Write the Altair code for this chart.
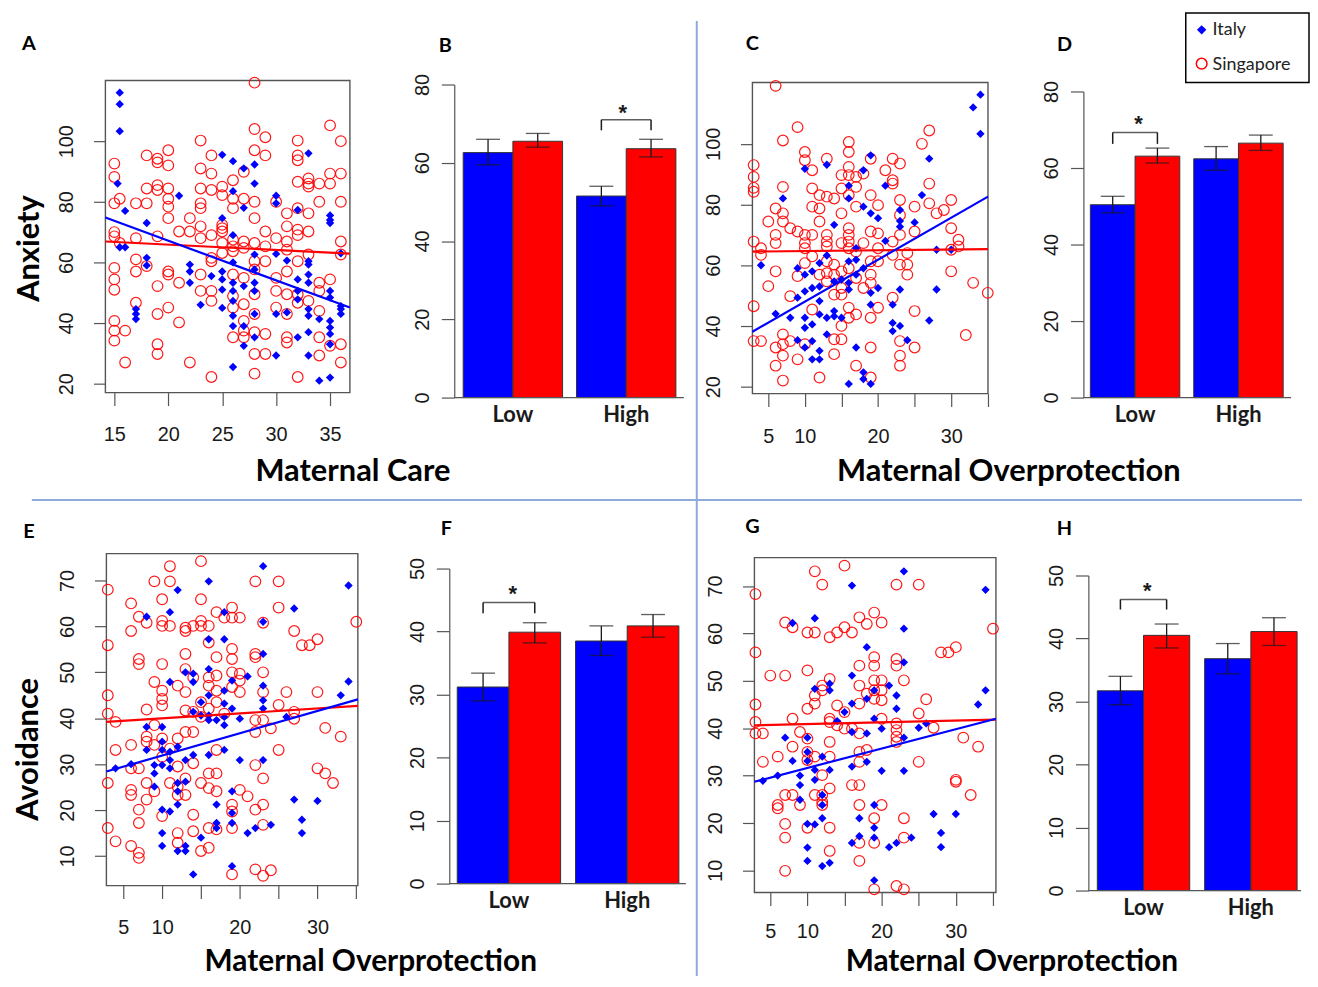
import altair as alt
import pandas as pd

# ------------------------------------------------------------------ data
# Panel A: Anxiety vs Maternal Care  ([x, y] pairs)
A_ITALY = [[15.5,116],[15.5,112.2],[15.5,103.3],[15.3,86],[16,77],[15.5,65],[16,65],[17,44.6],[17,43],[17,41.3],
           [18,73],[18,61.5],[18,59],[21,82],[22,59.3],[22,57],[22,53.3],[23,46],[24,55.5],[25,95.5],[25,74.6],
           [25,57],[25,54.4],[25,51],[25,45],[26,93.4],[26,83.5],[26,69],[26,60],[26,53.3],[26,50.6],[26,47.3],
           [26,42.4],[26,39],[26,25.5],[27,91],[27,78],[27,52.2],[27,39],[27,32.5],[28,92.3],[28,86],[28,62.6],
           [28,57.7],[28,53.3],[28,50.6],[28,43],[28,35.3],[30,82],[30,79.5],[30,62.8],[30,43],[30,29.3],[31,60.6],
           [31,43.5],[32,77.3],[32,54.4],[32,50.6],[32,47.8],[32,35.3],[33,96],[33,60.4],[33,59.3],[33,56],[33,53.3],
           [33,44.6],[33,42.4],[33,37],[33,29.3],[34,41.3],[34,21],[35,75.5],[35,74],[35,73],[35,50.6],[35,48.4],
           [35,40.7],[35,38.5],[35,36.4],[35,33],[35,22],[36,63],[36,45.6],[36,44.6],[36,43]]
A_SINGAPORE = [[15,92.6],[15,88.2],[15.5,81],[15,79.5],[15,70],[15,68.6],[15.5,66.4],[15,58.2],[15,54.4],[15,51],
               [15,40.7],[15,37.5],[15,34.2],[16,37.5],[16,27],[17,79.5],[17,68],[17,61],[17,57],[17,46.7],
               [18,95.3],[18,84.4],[18,79.5],[18,58.8],[19,94.2],[19,93],[19,85.5],[19,83.9],[19,68.6],[19,52.2],
               [19,43],[19,33],[19,29.8],[20,97],[20,92],[20,84.4],[20,81],[20,78.4],[20,74.6],[20,57],[20,56],
               [20,45.1],[21,70.2],[21,53.3],[21,40.2],[22,74.6],[22,70.2],[22,27],[23,100.2],[23,91],[23,84.4],
               [23,79.5],[23,77.9],[23,71.9],[23,68],[23,56],[23,50.6],[24,95.3],[24,89.3],[24,83.9],[24,69],
               [24,61.5],[24,60.4],[24,50.6],[24,47.3],[24,22.2],[25,85],[25,82.2],[25,72.4],[25,71.3],[25,70.2],
               [25,66.4],[25,63.1],[26,87.1],[26,81],[26,77.9],[26,67.5],[26,65.3],[26,63.7],[26,56],[26,48.9],
               [26,45.1],[26,35.3],[27,89.9],[27,81],[27,66.9],[27,64.8],[27,54.9],[27,46.2],[27,40.7],[27,37.5],
               [27,35.3],[28,119.3],[28,104],[28,97],[28,80],[28,74.6],[28,66.4],[28,60.4],[28,57.7],[28,49.5],
               [28,43],[28,37],[28,29.8],[28,23.3],[29,101.3],[29,95.3],[29,70.2],[29,65.3],[29,60.4],[29,36.4],
               [29,29.8],[30,80],[30,68],[30,54.9],[30,50.6],[30,45.1],[31,76.2],[31,71.9],[31,66.9],[31,64.2],
               [31,57],[31,49.5],[31,43],[31,35.3],[31,33.6],[32,100.2],[32,95.3],[32,93.7],[32,86.6],[32,77.9],
               [32,70.8],[32,69],[32,60.4],[32,49.5],[32,46.7],[32,22.2],[33,87.7],[33,86],[33,85],[33,76.2],
               [33,70.2],[33,62.6],[33,47.3],[34,86],[34,80],[34,53.3],[34,50.6],[34,44],[34,35.3],[34,29.3],
               [35,105.2],[35,89.3],[35,86],[35,54.4],[35,32.5],[36,100],[36,89.3],[36,80],[36,66.9],[36,62.6],
               [36,33],[36,27]]
A_FIT_X = [14.17, 36.84]
A_FIT_ITALY = [74.8, 45.1]
A_FIT_SINGAPORE = [66.9, 62.9]

# Panel C: Anxiety vs Maternal Overprotection
C_ITALY = [[4,60],[6,44],[7,82],[8,42.7],[9,59],[9,49.3],[9,35.3],[10,91.8],[10,56.9],[10,51.4],[10,42.7],[10,39.4],
           [10,32.9],[11,58],[11,52.5],[11,40.5],[11,35],[11,29],[12,60.7],[12,53],[12,48.2],[12,43.8],[12,31.8],
           [12,29],[13,93.1],[13,63.2],[13,42.7],[13,37.2],[14,73.3],[14,54.7],[14,44.9],[14,43.2],[15,55.3],
           [15,42.7],[16,86.2],[16,82],[16,61.3],[16,54.2],[16,52],[16,20.9],[17,65.6],[17,61.8],[17,56.9],
           [17,32.9],[18,91.3],[18,79.3],[18,59],[18,22.5],[18,24.7],[19,96.2],[19,77.1],[19,50.9],[19,47],
           [19,20.9],[20,75.5],[20,52.5],[21,86.2],[21,68],[22,47],[22,38.3],[22,41],[23,78.2],[23,74.6],
           [23,72.7],[23,52],[23,40],[24,35.3],[25,74.1],[26,83.1],[27,95.1],[27,41.8],[28,65.1],[28,52],
           [30,65.1],[33,112],[34,116.2],[34,103.3]]
C_SINGAPORE = [[3,93],[3,89.1],[3,85.5],[3,84.2],[3,67.8],[3,46.5],[3,35],[4,65.6],[4,63.4],[4,35],[5,74.4],
               [5,53.1],[6,119.1],[6,78.7],[6,70],[6,67.3],[6,58],[6,32.9],[6,26.9],[7,101.1],[7,85.8],[7,77.1],
               [7,74.4],[7,37.2],[7,34],[7,30.2],[7,22],[8,72.2],[8,49.8],[8,35],[9,105.5],[9,71.1],[9,56.4],
               [9,29],[10,97.3],[10,94.6],[10,70],[10,67.3],[10,65.6],[10,60.7],[10,34],[11,91.3],[11,85.3],
               [11,79.3],[11,70],[11,62.9],[11,45.4],[12,83.1],[12,78.7],[12,74.4],[12,56.9],[12,23],[13,95.1],
               [13,82.6],[13,70],[13,67.8],[13,66.2],[13,61.3],[13,57.4],[13,54.7],[14,82],[14,60.2],[14,56.9],
               [14,50.3],[14,35.6],[14,30.7],[15,89.7],[15,85.3],[15,77.1],[15,67.3],[15,58],[15,52.5],[15,50.3],
               [15,40],[15,35.6],[16,100.6],[16,97.3],[16,92.4],[16,89.7],[16,83.1],[16,72.2],[16,70],[16,67.8],
               [16,65.6],[16,59],[16,46],[16,42.7],[17,89.1],[17,85.8],[17,79.3],[17,64.5],[17,55.8],[17,43.8],
               [17,26.9],[18,90.2],[18,67.3],[18,52.5],[19,95.1],[19,83.1],[19,71.1],[19,61.3],[19,56.9],
               [19,54.2],[19,42.7],[19,32.9],[19,23],[20,79.8],[20,70.5],[20,65.6],[20,61.3],[20,46],[21,91.3],
               [22,95.1],[22,88],[22,86.9],[22,67.8],[22,63.4],[22,49.3],[23,93.5],[23,81.5],[23,76.5],[23,70],
               [23,60.2],[23,35],[23,30.2],[23,26.9],[24,64],[24,60.2],[24,56.9],[25,79.3],[25,71.1],[25,44.9],
               [25,32.9],[26,100],[27,104.4],[27,86.9],[27,80.4],[28,77.1],[29,78.2],[30,81.5],[30,72.2],
               [30,65.1],[30,58],[31,68.4],[31,66.2],[32,37],[33,54.2],[35,50.9]]
C_FIT_X = [2.83, 35.03]
C_FIT_ITALY = [38.1, 82.6]
C_FIT_SINGAPORE = [64.5, 65.3]

# Panel E: Avoidance vs Maternal Overprotection
E_ITALY = [[4,29.1],[6,30],[8,62.1],[8,38.1],[8,33.1],[9,29.8],[9,28],[9,25.1],[10,38.1],[10,34.9],[10,33.1],
           [10,29.8],[10,20.1],[10,15],[10,12.2],[11,63.1],[11,47.9],[11,32.7],[11,30.9],[11,29.1],[11,19.7],
           [12,67.9],[12,33.8],[12,25.9],[12,24.1],[12,21.2],[12,11.1],[13,50],[13,30.9],[13,26.2],[13,12.2],
           [13,11.1],[14,49.7],[14,47.9],[14,41.4],[14,32],[14,6],[15,43.5],[15,40.6],[15,14],[16,69.8],
           [16,57.2],[16,50.7],[16,45],[16,40.6],[16,39.6],[16,32],[17,39.6],[17,21.2],[17,17.2],[17,16.1],
           [18,63.1],[18,57.2],[18,46],[18,43.2],[18,40.3],[18,38.5],[18,33.1],[19,48.2],[19,42.1],[19,24.1],
           [19,19.4],[19,17.2],[19,7.8],[20,39.9],[20,30.9],[21,49.1],[21,15],[22,16.1],[23,73.1],[23,61],
           [23,54],[23,47.1],[23,43.9],[23,42.1],[23,30.9],[24,16.8],[26,40.3],[27,63.9],[27,22.3],[28,17.9],
           [28,15],[30,22],[33,45],[34,68.9],[34,48]]
E_SINGAPORE = [[3,68],[3,55.9],[3,45],[3,41],[3,25.9],[3,16.1],[4,39.2],[4,33.1],[4,13.2],[6,65],[6,59],
               [6,34.2],[6,29.1],[6,24.4],[6,23.3],[6,12.2],[7,62.1],[7,52.9],[7,51.8],[7,29.1],[7,20.1],
               [7,17.2],[7,10.7],[7,9.6],[8,60.8],[8,41.9],[8,36],[8,34.9],[8,25.9],[8,22.3],[9,69.8],[9,47.9],
               [9,38.5],[9,34.2],[9,24.1],[10,65.9],[10,61.2],[10,60.1],[10,51.8],[10,46],[10,44.2],[10,42.8],
               [10,35.6],[10,31.6],[10,18.7],[11,73.1],[11,69.8],[11,60.1],[11,33.4],[11,25.9],[12,47.1],
               [12,35.6],[12,29.5],[12,25.1],[12,23.3],[12,15],[12,12.9],[13,59.7],[13,59],[13,54],[13,50.7],
               [13,45.7],[13,41.7],[13,37],[13,26.9],[13,23.3],[14,60.1],[14,48.9],[14,41.4],[14,37],[14,30.2],
               [14,19],[14,15.4],[15,74.2],[15,65.9],[15,61.2],[15,60.1],[15,43.5],[15,40.3],[15,25.9],[15,11.1],
               [16,60.1],[16,56.5],[16,48.9],[16,47.1],[16,42.1],[16,28],[16,24.8],[16,16.1],[16,11.8],[17,63.1],
               [17,53.3],[17,49.3],[17,46],[17,43.5],[17,33.1],[17,28],[17,24.1],[17,15.8],[18,61.9],[18,41],
               [19,64.1],[19,61.9],[19,55.1],[19,52.9],[19,50],[19,46.8],[19,21.2],[19,19.7],[19,16.1],[19,6],
               [20,61.9],[20,49.7],[20,48.2],[20,45.7],[20,24.4],[21,23],[22,69.8],[22,54],[22,53.3],[22,39.6],
               [22,37],[22,29.8],[22,20.1],[22,7.1],[23,60.8],[23,50],[23,45.7],[23,39.6],[23,26.9],[23,21.2],
               [23,16.8],[23,5.7],[24,6.9],[24,37.8],[25,69.8],[25,64.1],[25,42.9],[25,33.1],[26,45.7],[27,59],
               [27,41.4],[27,39.9],[28,55.9],[29,55.9],[30,57.2],[30,45.7],[30,29.1],[31,37.9],[31,28],[32,25.9],
               [33,36],[35,61]]
E_FIT_X = [2.82, 35.2]
E_FIT_ITALY = [28.4, 44.1]
E_FIT_SINGAPORE = [39.2, 42.7]

# Panel G: Avoidance vs Maternal Overprotection
G_ITALY = [[4,28.9],[6,30],[7,38],[8,62.2],[8,33.1],[9,30],[9,28],[9,24.9],[10,38],[10,35],[10,33.1],[10,19.8],
           [10,14.8],[10,12],[11,63.2],[11,48.3],[11,31.2],[11,29.1],[11,19.7],[12,34],[12,25.9],[12,23.8],
           [12,21],[12,10.9],[13,49.4],[13,48],[13,31.2],[13,11.6],[14,41.5],[15,43.4],[16,70.1],[16,51.1],
           [16,45.2],[16,39.2],[16,31.9],[16,15.8],[17,21],[17,17.2],[18,57.1],[18,46.2],[18,38.9],[18,32.9],
           [19,48],[19,42],[19,23.8],[19,19],[19,16.9],[19,7.9],[20,39.9],[20,31],[21,49],[21,14.9],[22,46.9],
           [22,44.1],[22,15.8],[23,73.1],[23,61],[23,53.9],[23,38],[23,31],[24,16.9],[25,40.1],[26,41],
           [27,21.9],[28,17.9],[28,14.9],[30,21.9],[33,45],[34,69.2],[34,48]]
G_SINGAPORE = [[3,68.3],[3,56],[3,45],[3,41.3],[3,38.9],[4,38.9],[4,32.9],[5,51.1],[6,34],[6,23.8],[6,23.1],
               [7,62.3],[7,51.1],[7,25.9],[7,19.8],[7,16.9],[7,9.9],[8,61.3],[8,42],[8,36.1],[8,25.9],[9,39.2],
               [9,23.8],[10,60.2],[10,52.2],[10,44.1],[10,37.8],[10,35],[10,33.3],[10,19],[11,73.1],[11,60.2],
               [11,46.9],[11,45.2],[11,34],[11,25.9],[12,70.3],[12,49],[12,48],[12,30.1],[12,25.9],[12,24.5],
               [12,23.8],[13,59.2],[13,50.4],[13,42],[13,41.3],[13,37.1],[13,34],[13,27.3],[13,19],[13,14.1],
               [14,60.2],[14,44.8],[14,40.6],[15,74.3],[15,61.3],[15,43.4],[15,39.9],[16,60.2],[16,39.9],[16,28],
               [17,63.4],[17,53.2],[17,49],[17,45.2],[17,38.9],[17,35],[17,32.9],[17,28],[17,23.8],[17,15.8],
               [17,12],[18,62],[18,47.3],[18,35.4],[19,64.4],[19,55],[19,53.2],[19,50.1],[19,48],[19,46.2],[19,21],
               [19,15.8],[19,6],[20,62.3],[20,50.1],[20,48],[20,45.9],[20,42],[20,23.8],[22,70.3],[22,54.6],
               [22,53.2],[22,41],[22,39.6],[22,38.2],[22,37.1],[22,6.7],[23,50.1],[23,21],[23,16.9],[23,6],
               [25,70.3],[25,43.1],[25,32.9],[26,46.1],[27,40.1],[28,56],[29,56],[30,57.1],[30,29.1],[30,28.7],
               [31,38],[32,25.9],[33,36.1],[35,61]]
G_FIT_X = [2.86, 35.4]
G_FIT_ITALY = [28.7, 42.0]
G_FIT_SINGAPORE = [40.6, 41.8]

# Bar panels (Low, High)
GROUPS = ["Low", "High"]
COUNTRIES = ["Italy", "Singapore"]

B_ITALY_MEAN, B_ITALY_LO, B_ITALY_HI = [62.6, 51.5], [59.5, 49.0], [66.0, 54.0]
B_SING_MEAN, B_SING_LO, B_SING_HI = [65.5, 63.6], [64.0, 61.5], [67.5, 66.0]
B_SIG_GROUP, B_BRACKET, B_STAR = "High", [68.3, 71.0], 74.0

D_ITALY_MEAN, D_ITALY_LO, D_ITALY_HI = [50.4, 62.4], [48.3, 59.4], [52.6, 65.6]
D_SING_MEAN, D_SING_LO, D_SING_HI = [63.1, 66.5], [61.3, 64.6], [65.2, 68.6]
D_SIG_GROUP, D_BRACKET, D_STAR = "Low", [66.3, 69.3], 72.8

F_ITALY_MEAN, F_ITALY_LO, F_ITALY_HI = [31.2, 38.5], [29.0, 36.2], [33.4, 40.9]
F_SING_MEAN, F_SING_LO, F_SING_HI = [39.9, 40.9], [38.2, 39.1], [41.4, 42.7]
F_SIG_GROUP, F_BRACKET, F_STAR = "Low", [42.9, 44.6], 46.7

H_ITALY_MEAN, H_ITALY_LO, H_ITALY_HI = [31.7, 36.8], [29.5, 34.4], [34.0, 39.2]
H_SING_MEAN, H_SING_LO, H_SING_HI = [40.5, 41.1], [38.5, 38.9], [42.3, 43.3]
H_SIG_GROUP, H_BRACKET, H_STAR = "Low", [44.6, 46.2], 48.4

TICKS_ANX = [20, 40, 60, 80, 100]
TICKS_AVO = [10, 20, 30, 40, 50, 60, 70]
TICKS_CARE = [15, 20, 25, 30, 35]
TICKS_OVER = [5, 10, 15, 20, 25, 30, 35]
TICKS_BAR80 = [0, 20, 40, 60, 80]
TICKS_BAR50 = [0, 10, 20, 30, 40, 50]

# ------------------------------------------------------------------ layout / style
W, H = 1310, 971
M = 8
BLUE = "#0000ff"
RED = "#ff0000"
GRAY = "#555555"
INK = "#1a1a1a"
SEP = "#8eaadb"
TICK_FONT = "Liberation Sans"
TITLE_FONT = "Lato"


def px(x):
    return x - M


def py(y):
    return y - M


ONE = pd.DataFrame({"k": [0]})
layers = []


def pts(pairs):
    return pd.DataFrame({"x": [p[0] for p in pairs], "y": [p[1] for p in pairs]})


def scatter(italy, sing, fit_x, fit_it, fit_sg, xdom, ydom, frame, xticks, yticks, hidden, xpad):
    L, T, R, B = frame
    xs = alt.Scale(domain=xdom, range=[px(L), px(R)], nice=False, zero=False)
    ys = alt.Scale(domain=ydom, range=[py(B), py(T)], nice=False, zero=False)
    if hidden:
        cond = " || ".join(f"datum.value == {v}" for v in hidden)
        lab = f"({cond}) ? '' : datum.label"
    else:
        lab = "datum.label"
    xaxis = alt.Axis(orient="bottom", offset=py(B) - H, values=xticks, labelExpr=lab,
                     tickSize=13, tickWidth=1.2, tickColor=GRAY, domain=False, grid=False,
                     title=None, labelFont=TICK_FONT, labelFontSize=20, labelColor=INK,
                     labelPadding=xpad, labelFlush=False, labelOverlap=False)
    yaxis = alt.Axis(orient="left", offset=-px(L), values=yticks, tickSize=12, tickWidth=1.2,
                     tickColor=GRAY, domain=False, grid=False, title=None, labelFont=TICK_FONT,
                     labelFontSize=20, labelColor=INK, labelAngle=270, labelAlign="center",
                     labelBaseline="alphabetic", labelPadding=21, labelFlush=False,
                     labelOverlap=False)
    layers.append(alt.Chart(ONE).mark_rect(fillOpacity=0, stroke=GRAY, strokeWidth=1.4).encode(
        x=alt.value(px(L)), x2=alt.value(px(R)), y=alt.value(py(T)), y2=alt.value(py(B))))
    layers.append(alt.Chart(pts(sing)).mark_point(shape="circle", filled=False, color=RED, size=115,
                                                  strokeWidth=1.2, opacity=0.9).encode(
        x=alt.X("x:Q", scale=xs, axis=xaxis), y=alt.Y("y:Q", scale=ys, axis=yaxis)))
    layers.append(alt.Chart(pts(italy)).mark_point(shape="diamond", filled=True, color=BLUE, size=70,
                                                   opacity=1).encode(
        x=alt.X("x:Q", scale=xs, axis=None), y=alt.Y("y:Q", scale=ys, axis=None)))
    layers.append(alt.Chart(pd.DataFrame({"x": fit_x, "y": fit_sg})).mark_line(color=RED, strokeWidth=2.2).encode(
        x=alt.X("x:Q", scale=xs, axis=None), y=alt.Y("y:Q", scale=ys, axis=None)))
    layers.append(alt.Chart(pd.DataFrame({"x": fit_x, "y": fit_it})).mark_line(color=BLUE, strokeWidth=2.2).encode(
        x=alt.X("x:Q", scale=xs, axis=None), y=alt.Y("y:Q", scale=ys, axis=None)))


def bars(it_mean, it_lo, it_hi, sg_mean, sg_lo, sg_hi, sig_group, bracket, star,
         ymax, yticks, axis_x, bar_l, bar_r, p_inner, ytop, ybot, base_r):
    rows = []
    for i, g in enumerate(GROUPS):
        rows.append(dict(group=g, country="Italy", value=it_mean[i], lo=it_lo[i], hi=it_hi[i]))
        rows.append(dict(group=g, country="Singapore", value=sg_mean[i], lo=sg_lo[i], hi=sg_hi[i]))
    df = pd.DataFrame(rows)
    xs = alt.Scale(domain=GROUPS, range=[px(bar_l), px(bar_r)], paddingInner=p_inner, paddingOuter=0)
    os_ = alt.Scale(domain=COUNTRIES, paddingInner=0, paddingOuter=0)
    ys = alt.Scale(domain=[0, ymax], range=[py(ybot), py(ytop)], nice=False, zero=False)
    cs = alt.Scale(domain=COUNTRIES, range=[BLUE, RED])
    bar_w = (bar_r - bar_l) * (1 - p_inner) / (2 - p_inner) / 2
    xaxis = alt.Axis(orient="bottom", offset=py(ybot) - H, ticks=False, tickSize=0, domain=False,
                     grid=False, title=None, labelAngle=0, labelFont=TITLE_FONT,
                     labelFontWeight="bold", labelFontSize=22, labelColor=INK, labelPadding=7)
    yaxis = alt.Axis(orient="left", offset=-px(axis_x), values=yticks, tickSize=13, tickWidth=1.2,
                     tickColor=GRAY, domain=True, domainColor=GRAY, domainWidth=1.2, grid=False,
                     title=None, labelFont=TICK_FONT, labelFontSize=20, labelColor=INK,
                     labelAngle=270, labelAlign="center", labelBaseline="alphabetic",
                     labelPadding=13, labelFlush=False, labelOverlap=False)
    X = lambda ax=None: alt.X("group:N", scale=xs, sort=GROUPS, axis=ax)
    XO = alt.XOffset("country:N", scale=os_, sort=COUNTRIES)
    layers.append(alt.Chart(df).mark_bar(stroke="#333333", strokeWidth=1).encode(
        x=X(xaxis), xOffset=XO, y=alt.Y("value:Q", scale=ys, axis=yaxis),
        color=alt.Color("country:N", scale=cs, legend=None)))
    layers.append(alt.Chart(pd.DataFrame({"v": [0]})).mark_rule(color=GRAY, strokeWidth=1.2).encode(
        x=alt.value(px(axis_x)), x2=alt.value(px(base_r)), y=alt.Y("v:Q", scale=ys, axis=None)))
    layers.append(alt.Chart(df).mark_rule(color=INK, strokeWidth=1.3).encode(
        x=X(), xOffset=XO, y=alt.Y("lo:Q", scale=ys, axis=None), y2="hi:Q"))
    for fld in ["lo", "hi"]:
        layers.append(alt.Chart(df).mark_tick(color=INK, thickness=1.3, size=24).encode(
            x=X(), xOffset=XO, y=alt.Y(f"{fld}:Q", scale=ys, axis=None)))
    # significance bracket: two legs at the bar centres and a bar across the group centre
    legs = pd.DataFrame({"group": [sig_group] * 2, "country": COUNTRIES,
                         "lo": [bracket[0]] * 2, "hi": [bracket[1]] * 2})
    layers.append(alt.Chart(legs).mark_rule(color=INK, strokeWidth=1.5).encode(
        x=X(), xOffset=XO, y=alt.Y("lo:Q", scale=ys, axis=None), y2="hi:Q"))
    layers.append(alt.Chart(pd.DataFrame({"group": [sig_group], "v": [bracket[1]]})).mark_tick(
        color=INK, thickness=1.5, size=bar_w).encode(x=X(), y=alt.Y("v:Q", scale=ys, axis=None)))
    layers.append(alt.Chart(pd.DataFrame({"group": [sig_group], "v": [star]})).mark_text(
        text="*", font=TICK_FONT, fontSize=22, fontWeight="bold", color=INK, baseline="middle", dy=5).encode(
        x=X(), y=alt.Y("v:Q", scale=ys, axis=None)))


def text(t, x, y, size, bold=True, angle=0, align="center", font=TITLE_FONT, color="#000000"):
    kw = dict(text=t, font=font, fontSize=size, align=align, baseline="middle", color=color)
    if bold:
        kw["fontWeight"] = "bold"
    if angle:
        kw["angle"] = angle
    layers.append(alt.Chart(ONE).mark_text(**kw).encode(x=alt.value(px(x)), y=alt.value(py(y))))


# separators
layers.append(alt.Chart(ONE).mark_rule(color=SEP, strokeWidth=2).encode(
    x=alt.value(px(701)), y=alt.value(py(18)), y2=alt.value(H)))
layers.append(alt.Chart(ONE).mark_rule(color=SEP, strokeWidth=2).encode(
    x=alt.value(px(32)), x2=alt.value(px(1310)), y=alt.value(py(500))))

# panels
scatter(A_ITALY, A_SINGAPORE, A_FIT_X, A_FIT_ITALY, A_FIT_SINGAPORE, [14.17, 36.84], [17.05, 120.0],
        (106, 78, 352, 392), TICKS_CARE, TICKS_ANX, [], 19)
scatter(C_ITALY, C_SINGAPORE, C_FIT_X, C_FIT_ITALY, C_FIT_SINGAPORE, [2.83, 35.03], [17.7, 120.2],
        (757, 80, 994, 393), TICKS_OVER, TICKS_ANX, [15, 25, 35], 20)
scatter(E_ITALY, E_SINGAPORE, E_FIT_X, E_FIT_ITALY, E_FIT_SINGAPORE, [2.82, 35.2], [3.57, 75.84],
        (107, 554, 360, 888), TICKS_OVER, TICKS_AVO, [15, 25, 35], 19)
scatter(G_ITALY, G_SINGAPORE, G_FIT_X, G_FIT_ITALY, G_FIT_SINGAPORE, [2.86, 35.4], [5.32, 76.0],
        (759, 558, 1002, 895), TICKS_OVER, TICKS_AVO, [15, 25, 35], 16)

bars(B_ITALY_MEAN, B_ITALY_LO, B_ITALY_HI, B_SING_MEAN, B_SING_LO, B_SING_HI, B_SIG_GROUP, B_BRACKET,
     B_STAR, 80, TICKS_BAR80, 457, 466, 680, 0.123, 82, 397, 688)
bars(D_ITALY_MEAN, D_ITALY_LO, D_ITALY_HI, D_SING_MEAN, D_SING_LO, D_SING_HI, D_SIG_GROUP, D_BRACKET,
     D_STAR, 80, TICKS_BAR80, 1090, 1097, 1291, 0.135, 89, 397, 1299)
bars(F_ITALY_MEAN, F_ITALY_LO, F_ITALY_HI, F_SING_MEAN, F_SING_LO, F_SING_HI, F_SIG_GROUP, F_BRACKET,
     F_STAR, 50, TICKS_BAR50, 452, 460, 683, 0.126, 569, 886, 690)
bars(H_ITALY_MEAN, H_ITALY_LO, H_ITALY_HI, H_SING_MEAN, H_SING_LO, H_SING_HI, H_SIG_GROUP, H_BRACKET,
     H_STAR, 50, TICKS_BAR50, 1095, 1104, 1305, 0.139, 576, 893, 1309)

# panel letters
for letter, lx, ly in [("A", 29, 41), ("B", 448, 43), ("C", 757, 41), ("D", 1071, 42),
                       ("E", 29, 532), ("F", 449, 529), ("G", 757, 527), ("H", 1071, 529)]:
    text(letter, lx, ly, 20)

# axis titles
text("Anxiety", 30, 247, 31, angle=270)
text("Avoidance", 29, 751, 31, angle=270)
text("Maternal Care", 355, 472, 31)
text("Maternal Overprotection", 1015, 472, 31)
text("Maternal Overprotection", 373, 965, 30)
text("Maternal Overprotection", 1018, 965, 30)

# legend
layers.append(alt.Chart(ONE).mark_rect(fillOpacity=0, stroke="#000000", strokeWidth=1.5).encode(
    x=alt.value(px(1193)), x2=alt.value(px(1317)), y=alt.value(py(10)), y2=alt.value(py(80))))
layers.append(alt.Chart(ONE).mark_point(shape="diamond", filled=True, color=BLUE, size=90, opacity=1).encode(
    x=alt.value(px(1209)), y=alt.value(py(27))))
layers.append(alt.Chart(ONE).mark_point(shape="circle", filled=False, color=RED, size=115, strokeWidth=1.5,
                                        opacity=1).encode(x=alt.value(px(1209)), y=alt.value(py(61))))
text("Italy", 1220, 27, 18, bold=False, align="left", color="#222222")
text("Singapore", 1220, 62, 18, bold=False, align="left", color="#222222")

chart = alt.layer(*layers).resolve_scale(
    x="independent", y="independent", color="independent", xOffset="independent"
).resolve_axis(x="independent", y="independent").properties(
    width=W, height=H, padding=0, autosize=alt.AutoSizeParams(type="none")
).configure_view(stroke="transparent")

chart.save("out.html", embed_options={"renderer": "svg", "actions": False})
